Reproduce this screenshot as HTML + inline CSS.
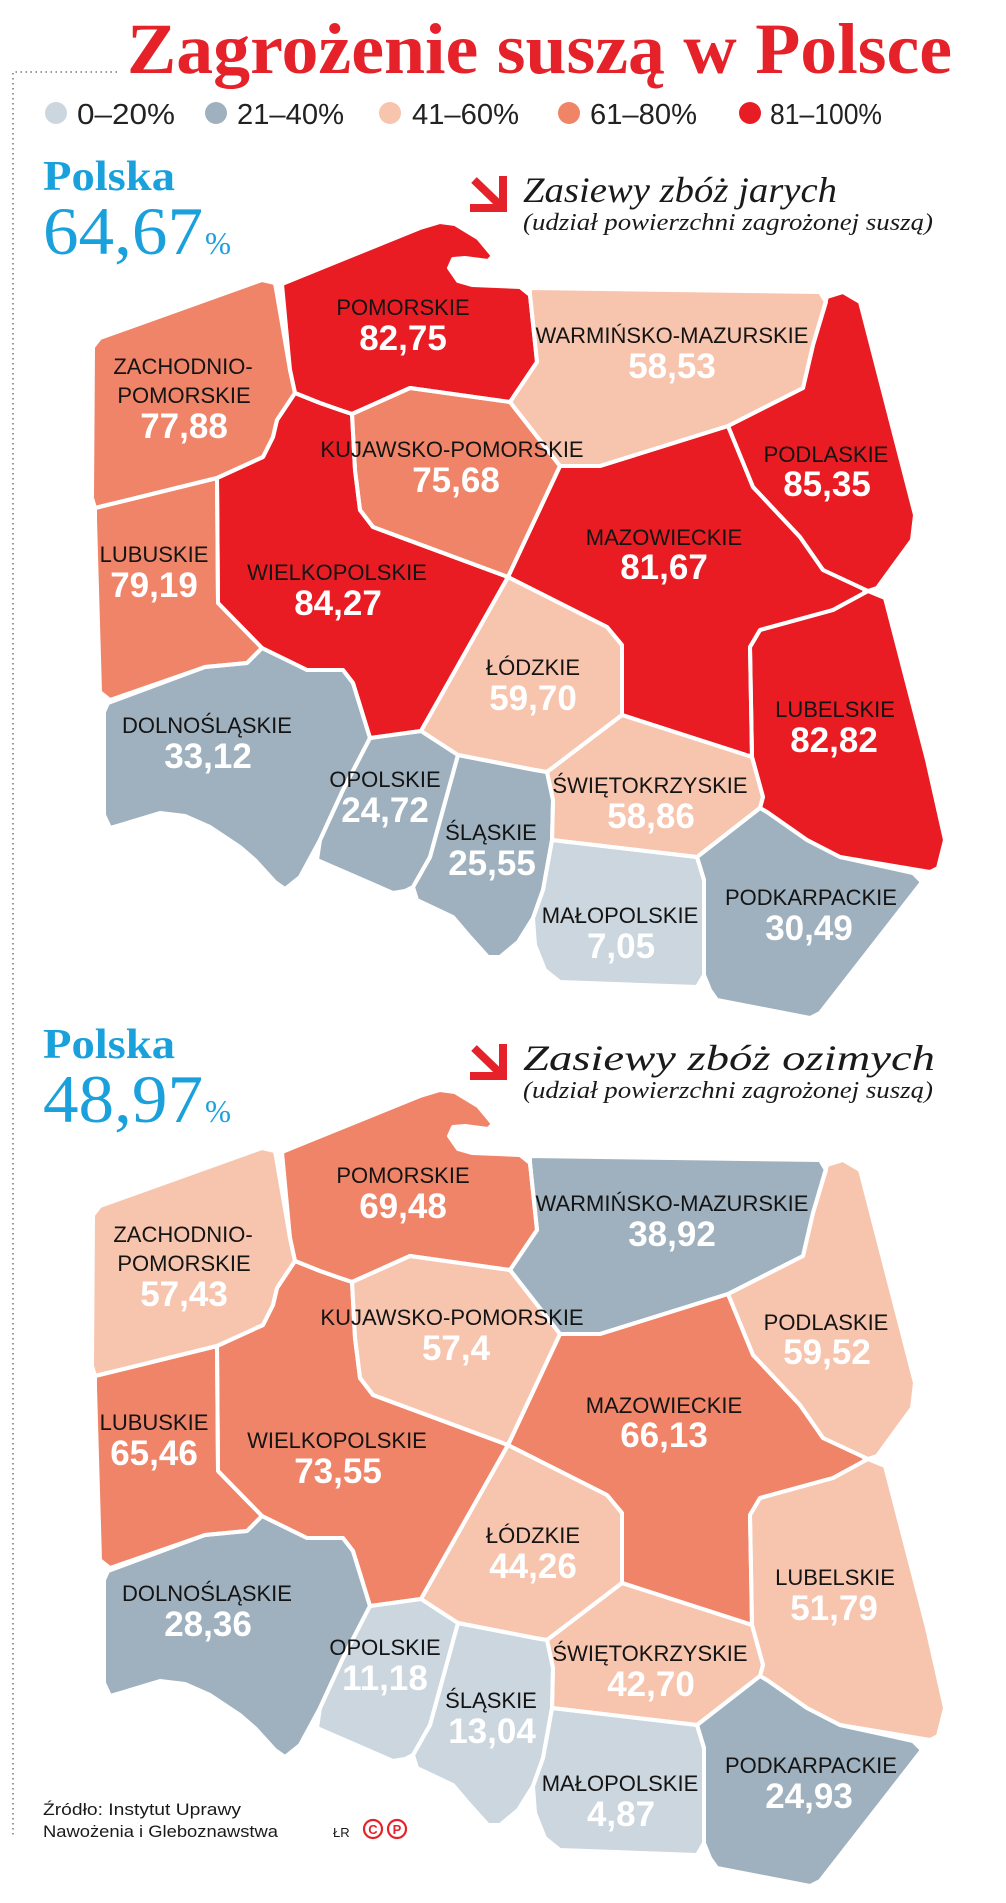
<!DOCTYPE html>
<html lang="pl">
<head>
<meta charset="utf-8">
<style>
  html,body{margin:0;padding:0;background:#fff;}
  body{width:1006px;height:1903px;overflow:hidden;}
  svg{display:block;}
  .nm{font-family:"Liberation Sans",sans-serif;font-size:22px;fill:#141414;text-anchor:middle;}
  .vl{font-family:"Liberation Sans",sans-serif;font-size:35px;font-weight:bold;fill:#fff;text-anchor:middle;}
  .lg{font-family:"Liberation Sans",sans-serif;font-size:29px;fill:#222;}
  .pl{font-family:"Liberation Serif",serif;fill:#1aa1dc;}
  .it{font-family:"Liberation Serif",serif;font-style:italic;fill:#1a1a1a;}
  .ft{font-family:"Liberation Sans",sans-serif;fill:#1a1a1a;}
</style>
</head>
<body>
<svg width="1006" height="1903" viewBox="0 0 1006 1903" xmlns="http://www.w3.org/2000/svg">
<defs>
  <filter id="rnd" x="-10%" y="-10%" width="120%" height="120%">
    <feGaussianBlur in="SourceGraphic" stdDeviation="4" result="b"/>
    <feComponentTransfer in="b" result="t"><feFuncA type="linear" slope="14" intercept="-6.5"/></feComponentTransfer>
    <feComposite in="SourceGraphic" in2="t" operator="in"/>
  </filter>
  <path id="pom" d="M282,284 L420,228 L440,222 L455,224 L478,238 L493,256 L488,261 L465,258 L453,259 L449,268 L458,281 L472,285 L520,287 L530,295 L537,362 L510,402 L410,388 L352,414 L340,410 L320,403 L295,393 L290,370 Z"/>
  <path id="zach" d="M93,347 L100,338 L262,280 L275,283 L290,370 L295,393 L277,420 L273,437 L263,457 L217,478 L95,508 L92,498 Z"/>
  <path id="lubu" d="M217,478 L218,603 L262,648 L247,663 L205,667 L110,700 L100,692 L95,520 L95,508 Z"/>
  <path id="wiel" d="M295,393 L320,403 L340,410 L352,414 L355,470 L360,510 L373,527 L508,577 L421,731 L370,738 L353,683 L343,670 L307,670 L262,648 L218,603 L217,478 L263,457 L273,437 L277,420 Z"/>
  <path id="dol" d="M108,703 L205,667 L247,663 L262,648 L307,670 L343,670 L353,683 L370,738 L343,790 L320,840 L300,877 L285,889 L275,882 L255,860 L240,847 L210,827 L185,816 L160,813 L127,823 L110,828 L104,815 L104,712 Z"/>
  <path id="opo" d="M370,738 L421,731 L458,755 L430,857 L413,887 L405,891 L393,893 L317,860 L320,840 L343,790 Z"/>
  <path id="sla" d="M458,755 L535,770 L547,772 L553,800 L552,840 L543,890 L533,918 L518,942 L500,957 L488,957 L470,937 L453,917 L417,900 L413,887 L430,857 Z"/>
  <path id="lodz" d="M508,577 L607,627 L622,645 L622,715 L547,772 L535,770 L458,755 L421,731 Z"/>
  <path id="swi" d="M622,715 L740,753 L752,757 L763,797 L760,808 L697,857 L552,840 L553,800 L547,772 Z"/>
  <path id="malo" d="M552,840 L697,857 L704,880 L704,975 L697,987 L560,982 L545,970 L535,945 L533,918 L543,890 Z"/>
  <path id="podk" d="M760,808 L767,812 L807,840 L840,857 L913,873 L922,882 L820,1013 L810,1018 L717,1000 L710,990 L704,975 L704,880 L697,857 Z"/>
  <path id="lube" d="M868,591 L885,598 L927,760 L945,840 L938,868 L930,872 L840,857 L807,840 L767,812 L760,808 L763,797 L752,757 L750,647 L760,630 L833,610 Z"/>
  <path id="maz" d="M560,466 L600,466 L728,426 L753,487 L800,537 L823,570 L868,591 L833,610 L760,630 L750,647 L752,757 L740,753 L622,715 L622,645 L607,627 L508,577 Z"/>
  <path id="kuj" d="M352,414 L410,388 L510,402 L560,466 L508,577 L373,527 L360,510 L355,470 Z"/>
  <path id="warm" d="M530,288 L820,292 L826,302 L813,345 L803,388 L728,426 L600,466 L560,466 L510,402 L537,362 L530,295 Z"/>
  <path id="podl" d="M827,297 L843,292 L860,302 L915,515 L912,540 L877,588 L868,591 L823,570 L800,537 L753,487 L728,426 L803,388 L813,345 Z"/>
  <g id="borders" fill="none" stroke="#fff" stroke-width="4" stroke-linejoin="round">
    <use href="#pom"/><use href="#zach"/><use href="#lubu"/><use href="#wiel"/>
    <use href="#dol"/><use href="#opo"/><use href="#sla"/><use href="#lodz"/>
    <use href="#swi"/><use href="#malo"/><use href="#podk"/><use href="#lube"/>
    <use href="#maz"/><use href="#kuj"/><use href="#warm"/><use href="#podl"/>
  </g>
</defs>

<!-- dotted frame -->
<path d="M117,72 L13,72 L13,1838" fill="none" stroke="#777" stroke-width="1.5" stroke-dasharray="1.5,3.5"/>

<!-- Title -->
<text x="127" y="73" font-family="'Liberation Serif',serif" font-weight="bold" font-size="72" fill="#e52229" textLength="825" lengthAdjust="spacingAndGlyphs">Zagrożenie suszą w Polsce</text>

<!-- Legend -->
<circle cx="56" cy="113" r="11" fill="#cbd6de"/>
<text class="lg" x="77" y="124" textLength="98" lengthAdjust="spacingAndGlyphs">0–20%</text>
<circle cx="216" cy="113" r="11" fill="#9fb1be"/>
<text class="lg" x="237" y="124" textLength="107" lengthAdjust="spacingAndGlyphs">21–40%</text>
<circle cx="390" cy="113" r="11" fill="#f7c4ae"/>
<text class="lg" x="412" y="124" textLength="107" lengthAdjust="spacingAndGlyphs">41–60%</text>
<circle cx="569" cy="113" r="11" fill="#ef8467"/>
<text class="lg" x="590" y="124" textLength="107" lengthAdjust="spacingAndGlyphs">61–80%</text>
<circle cx="750" cy="113" r="11" fill="#e81c24"/>
<text class="lg" x="770" y="124" textLength="112" lengthAdjust="spacingAndGlyphs">81–100%</text>

<!-- ===== MAP 1 ===== -->
<text class="pl" x="43" y="190" font-size="42" font-weight="bold" textLength="132" lengthAdjust="spacingAndGlyphs">Polska</text>
<text class="pl" x="43" y="254" font-size="68" textLength="160" lengthAdjust="spacingAndGlyphs">64,67</text>
<text class="pl" x="205" y="254" font-size="32" textLength="26" lengthAdjust="spacingAndGlyphs">%</text>

<g stroke="#e52229" stroke-width="8" fill="none">
  <line x1="474" y1="180" x2="502" y2="207"/>
  <path d="M470,208 L503,208 L503,176"/>
</g>
<text class="it" x="523" y="202" font-size="36" textLength="314" lengthAdjust="spacingAndGlyphs">Zasiewy zbóż jarych</text>
<text class="it" x="523" y="230" font-size="24" textLength="410" lengthAdjust="spacingAndGlyphs">(udział powierzchni zagrożonej suszą)</text>

<g>
  <use href="#pom" fill="#e81c24" filter="url(#rnd)"/>
  <use href="#zach" fill="#ef8467" filter="url(#rnd)"/>
  <use href="#lubu" fill="#ef8467" filter="url(#rnd)"/>
  <use href="#wiel" fill="#e81c24" filter="url(#rnd)"/>
  <use href="#dol" fill="#9fb1be" filter="url(#rnd)"/>
  <use href="#opo" fill="#9fb1be" filter="url(#rnd)"/>
  <use href="#sla" fill="#9fb1be" filter="url(#rnd)"/>
  <use href="#lodz" fill="#f7c4ae" filter="url(#rnd)"/>
  <use href="#swi" fill="#f7c4ae" filter="url(#rnd)"/>
  <use href="#malo" fill="#cbd6de" filter="url(#rnd)"/>
  <use href="#podk" fill="#9fb1be" filter="url(#rnd)"/>
  <use href="#lube" fill="#e81c24" filter="url(#rnd)"/>
  <use href="#maz" fill="#e81c24" filter="url(#rnd)"/>
  <use href="#kuj" fill="#ef8467" filter="url(#rnd)"/>
  <use href="#warm" fill="#f7c4ae" filter="url(#rnd)"/>
  <use href="#podl" fill="#e81c24" filter="url(#rnd)"/>
  <use href="#borders"/>
</g>

<g>
  <text class="nm" x="403" y="315">POMORSKIE</text><text class="vl" x="403" y="350">82,75</text>
  <text class="nm" x="183" y="374">ZACHODNIO-</text><text class="nm" x="184" y="403">POMORSKIE</text><text class="vl" x="184" y="438">77,88</text>
  <text class="nm" x="452" y="457">KUJAWSKO-POMORSKIE</text><text class="vl" x="456" y="492">75,68</text>
  <text class="nm" x="154" y="562">LUBUSKIE</text><text class="vl" x="154" y="597">79,19</text>
  <text class="nm" x="337" y="580">WIELKOPOLSKIE</text><text class="vl" x="338" y="615">84,27</text>
  <text class="nm" x="207" y="733">DOLNOŚLĄSKIE</text><text class="vl" x="208" y="768">33,12</text>
  <text class="nm" x="385" y="787">OPOLSKIE</text><text class="vl" x="385" y="822">24,72</text>
  <text class="nm" x="491" y="840">ŚLĄSKIE</text><text class="vl" x="492" y="875">25,55</text>
  <text class="nm" x="533" y="675">ŁÓDZKIE</text><text class="vl" x="533" y="710">59,70</text>
  <text class="nm" x="650" y="793">ŚWIĘTOKRZYSKIE</text><text class="vl" x="651" y="828">58,86</text>
  <text class="nm" x="620" y="923">MAŁOPOLSKIE</text><text class="vl" x="621" y="958">7,05</text>
  <text class="nm" x="811" y="905">PODKARPACKIE</text><text class="vl" x="809" y="940">30,49</text>
  <text class="nm" x="672" y="343">WARMIŃSKO-MAZURSKIE</text><text class="vl" x="672" y="378">58,53</text>
  <text class="nm" x="826" y="462">PODLASKIE</text><text class="vl" x="827" y="496">85,35</text>
  <text class="nm" x="664" y="545">MAZOWIECKIE</text><text class="vl" x="664" y="579">81,67</text>
  <text class="nm" x="835" y="717">LUBELSKIE</text><text class="vl" x="834" y="752">82,82</text>
</g>

<!-- ===== MAP 2 ===== -->
<text class="pl" x="43" y="1058" font-size="42" font-weight="bold" textLength="132" lengthAdjust="spacingAndGlyphs">Polska</text>
<text class="pl" x="43" y="1122" font-size="68" textLength="160" lengthAdjust="spacingAndGlyphs">48,97</text>
<text class="pl" x="205" y="1122" font-size="32" textLength="26" lengthAdjust="spacingAndGlyphs">%</text>

<g stroke="#e52229" stroke-width="8" fill="none">
  <line x1="474" y1="1048" x2="502" y2="1075"/>
  <path d="M470,1076 L503,1076 L503,1044"/>
</g>
<text class="it" x="523" y="1070" font-size="36" textLength="412" lengthAdjust="spacingAndGlyphs">Zasiewy zbóż ozimych</text>
<text class="it" x="523" y="1098" font-size="24" textLength="410" lengthAdjust="spacingAndGlyphs">(udział powierzchni zagrożonej suszą)</text>

<g transform="translate(0,868)">
  <g>
    <use href="#pom" fill="#ef8467" filter="url(#rnd)"/>
    <use href="#zach" fill="#f7c4ae" filter="url(#rnd)"/>
    <use href="#lubu" fill="#ef8467" filter="url(#rnd)"/>
    <use href="#wiel" fill="#ef8467" filter="url(#rnd)"/>
    <use href="#dol" fill="#9fb1be" filter="url(#rnd)"/>
    <use href="#opo" fill="#cbd6de" filter="url(#rnd)"/>
    <use href="#sla" fill="#cbd6de" filter="url(#rnd)"/>
    <use href="#lodz" fill="#f7c4ae" filter="url(#rnd)"/>
    <use href="#swi" fill="#f7c4ae" filter="url(#rnd)"/>
    <use href="#malo" fill="#cbd6de" filter="url(#rnd)"/>
    <use href="#podk" fill="#9fb1be" filter="url(#rnd)"/>
    <use href="#lube" fill="#f7c4ae" filter="url(#rnd)"/>
    <use href="#maz" fill="#ef8467" filter="url(#rnd)"/>
    <use href="#kuj" fill="#f7c4ae" filter="url(#rnd)"/>
    <use href="#warm" fill="#9fb1be" filter="url(#rnd)"/>
    <use href="#podl" fill="#f7c4ae" filter="url(#rnd)"/>
    <use href="#borders"/>
  </g>
  <g>
    <text class="nm" x="403" y="315">POMORSKIE</text><text class="vl" x="403" y="350">69,48</text>
    <text class="nm" x="183" y="374">ZACHODNIO-</text><text class="nm" x="184" y="403">POMORSKIE</text><text class="vl" x="184" y="438">57,43</text>
    <text class="nm" x="452" y="457">KUJAWSKO-POMORSKIE</text><text class="vl" x="456" y="492">57,4</text>
    <text class="nm" x="154" y="562">LUBUSKIE</text><text class="vl" x="154" y="597">65,46</text>
    <text class="nm" x="337" y="580">WIELKOPOLSKIE</text><text class="vl" x="338" y="615">73,55</text>
    <text class="nm" x="207" y="733">DOLNOŚLĄSKIE</text><text class="vl" x="208" y="768">28,36</text>
    <text class="nm" x="385" y="787">OPOLSKIE</text><text class="vl" x="385" y="822">11,18</text>
    <text class="nm" x="491" y="840">ŚLĄSKIE</text><text class="vl" x="492" y="875">13,04</text>
    <text class="nm" x="533" y="675">ŁÓDZKIE</text><text class="vl" x="533" y="710">44,26</text>
    <text class="nm" x="650" y="793">ŚWIĘTOKRZYSKIE</text><text class="vl" x="651" y="828">42,70</text>
    <text class="nm" x="620" y="923">MAŁOPOLSKIE</text><text class="vl" x="621" y="958">4,87</text>
    <text class="nm" x="811" y="905">PODKARPACKIE</text><text class="vl" x="809" y="940">24,93</text>
    <text class="nm" x="672" y="343">WARMIŃSKO-MAZURSKIE</text><text class="vl" x="672" y="378">38,92</text>
    <text class="nm" x="826" y="462">PODLASKIE</text><text class="vl" x="827" y="496">59,52</text>
    <text class="nm" x="664" y="545">MAZOWIECKIE</text><text class="vl" x="664" y="579">66,13</text>
    <text class="nm" x="835" y="717">LUBELSKIE</text><text class="vl" x="834" y="752">51,79</text>
  </g>
</g>

<!-- Footer -->
<text class="ft" x="43" y="1815" font-size="17" textLength="198" lengthAdjust="spacingAndGlyphs">Źródło: Instytut Uprawy</text>
<text class="ft" x="43" y="1837" font-size="17" textLength="235" lengthAdjust="spacingAndGlyphs">Nawożenia i Gleboznawstwa</text>
<text class="ft" x="333" y="1837" font-size="13">ŁR</text>
<circle cx="373" cy="1829" r="9" fill="none" stroke="#e52229" stroke-width="2.2"/>
<text x="373" y="1834" font-family="'Liberation Sans',sans-serif" font-weight="bold" font-size="13" fill="#e52229" text-anchor="middle">C</text>
<circle cx="397" cy="1829" r="9" fill="none" stroke="#e52229" stroke-width="2.2"/>
<text x="397" y="1834" font-family="'Liberation Sans',sans-serif" font-weight="bold" font-size="13" fill="#e52229" text-anchor="middle">P</text>
</svg>
</body>
</html>
